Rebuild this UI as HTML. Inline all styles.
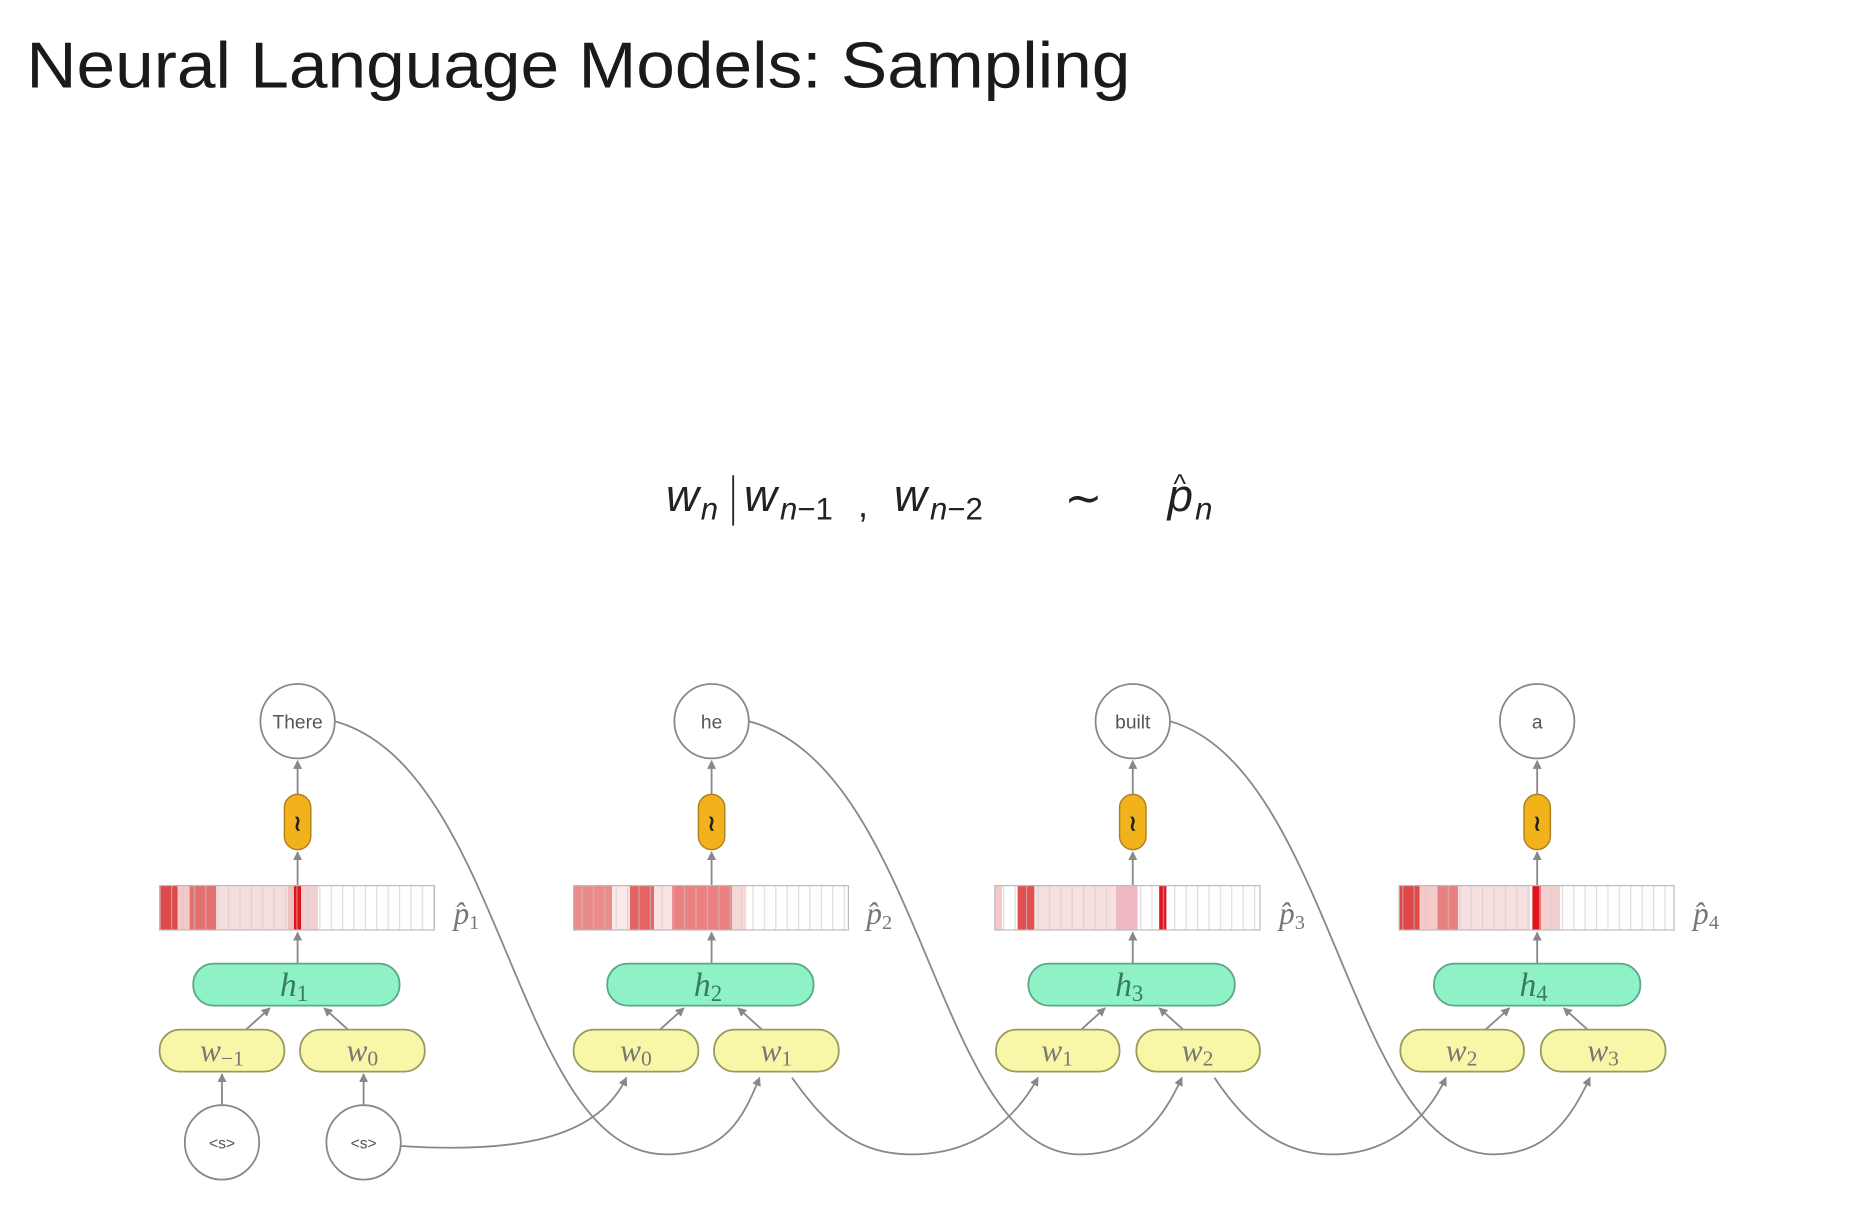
<!DOCTYPE html>
<html><head><meta charset="utf-8"><style>
html,body{margin:0;padding:0;background:#fff;}
svg{display:block;}
</style></head><body>
<svg width="1874" height="1224" viewBox="0 0 1561.7 1020" xmlns="http://www.w3.org/2000/svg" font-family="Liberation Sans, sans-serif">
<defs>
<marker id="ar" viewBox="0 0 10 10" refX="9" refY="5" markerWidth="5" markerHeight="5" orient="auto-start-reverse"><path d="M0,0 L10,5 L0,10 z" fill="#888"/></marker>
<pattern id="grid" width="9.5" height="40" patternUnits="userSpaceOnUse"><rect x="0" y="0" width="1" height="40" fill="#c8c8c8"/></pattern>
</defs>
<text x="22" y="73" font-size="54" fill="#1a1a1a" textLength="920" lengthAdjust="spacingAndGlyphs">Neural Language Models: Sampling</text>

<g font-family="Liberation Sans, sans-serif" font-style="italic" fill="#222">
<text x="555" y="426" font-size="38">w</text><text x="584" y="433" font-size="26">n</text>
<line x1="611" y1="396" x2="611" y2="438" stroke="#222" stroke-width="1.5"/>
<text x="620" y="426" font-size="38">w</text><text x="650" y="433" font-size="26">n<tspan font-style="normal">−1</tspan></text>
<text x="715" y="431" font-size="30" font-style="normal">,</text>
<text x="745" y="426" font-size="38">w</text><text x="775" y="433" font-size="26">n<tspan font-style="normal">−2</tspan></text>
<text x="887" y="428" font-size="38" font-style="normal">∼</text>
<text x="973" y="426" font-size="38">p</text><text x="996" y="433" font-size="26">n</text>
<text x="978" y="411" font-size="22" font-style="normal">^</text>
</g>

<g fill="none" stroke="#888" stroke-width="1.5">
<path d="M279,601 C420,640 430,962 555,962 C605,962 620,930 633,898" marker-end="url(#ar)"/>
<path d="M334,955 C440,962 500,945 522,898" marker-end="url(#ar)"/>
<path d="M624,601 C770,640 780,962 900,962 C950,962 970,930 985,898" marker-end="url(#ar)"/>
<path d="M660,898 C690,940 715,962 760,962 C810,962 845,935 865,898" marker-end="url(#ar)"/>
<path d="M975,601 C1110,640 1125,962 1245,962 C1290,962 1310,930 1325,898" marker-end="url(#ar)"/>
<path d="M1012,898 C1040,940 1070,962 1110,962 C1160,962 1190,930 1205,898" marker-end="url(#ar)"/>
</g>

<g stroke="#888" stroke-width="1.5" fill="none">
<path d="M248,803 L248,777" marker-end="url(#ar)"/><path d="M248,738 L248,710" marker-end="url(#ar)"/><path d="M248,662 L248,634" marker-end="url(#ar)"/>
<path d="M593,803 L593,777" marker-end="url(#ar)"/><path d="M593,738 L593,710" marker-end="url(#ar)"/><path d="M593,662 L593,634" marker-end="url(#ar)"/>
<path d="M944,803 L944,777" marker-end="url(#ar)"/><path d="M944,738 L944,710" marker-end="url(#ar)"/><path d="M944,662 L944,634" marker-end="url(#ar)"/>
<path d="M1281,803 L1281,777" marker-end="url(#ar)"/><path d="M1281,738 L1281,710" marker-end="url(#ar)"/><path d="M1281,662 L1281,634" marker-end="url(#ar)"/>
<path d="M205,858 L225,840" marker-end="url(#ar)"/><path d="M290,858 L270,840" marker-end="url(#ar)"/>
<path d="M550,858 L570,840" marker-end="url(#ar)"/><path d="M635,858 L615,840" marker-end="url(#ar)"/>
<path d="M901,858 L921,840" marker-end="url(#ar)"/><path d="M986,858 L966,840" marker-end="url(#ar)"/>
<path d="M1238,858 L1258,840" marker-end="url(#ar)"/><path d="M1323,858 L1303,840" marker-end="url(#ar)"/>
<path d="M185,921 L185,895" marker-end="url(#ar)"/><path d="M303,921 L303,895" marker-end="url(#ar)"/>
</g>

<g>
<rect x="133" y="738" width="229" height="37" fill="#fff"/>
<rect x="133" y="738" width="15" height="37" fill="#dc4a4a"/><rect x="148" y="738" width="10" height="37" fill="#f6c8c8"/><rect x="158" y="738" width="22" height="37" fill="#e57070"/><rect x="180" y="738" width="60" height="37" fill="#f7dede"/><rect x="240" y="738" width="5" height="37" fill="#f0c0c0"/><rect x="245" y="738" width="6" height="37" fill="#e0141e"/><rect x="251" y="738" width="14" height="37" fill="#f3d0d0"/>
<rect x="133" y="738" width="229" height="37" fill="url(#grid)" opacity="0.6"/>
<rect x="133" y="738" width="229" height="37" fill="none" stroke="#bbb"/>

<rect x="478" y="738" width="229" height="37" fill="#fff"/>
<rect x="478" y="738" width="32" height="37" fill="#eb8a8a"/><rect x="510" y="738" width="15" height="37" fill="#fbe8e8"/><rect x="525" y="738" width="20" height="37" fill="#e46464"/><rect x="545" y="738" width="15" height="37" fill="#fae3e3"/><rect x="560" y="738" width="50" height="37" fill="#ea8080"/><rect x="610" y="738" width="12" height="37" fill="#f7d8d8"/>
<rect x="478" y="738" width="229" height="37" fill="url(#grid)" opacity="0.6"/>
<rect x="478" y="738" width="229" height="37" fill="none" stroke="#bbb"/>

<rect x="829" y="738" width="221" height="37" fill="#fff"/>
<rect x="829" y="738" width="6" height="37" fill="#f3c8c8"/><rect x="848" y="738" width="14" height="37" fill="#e05050"/><rect x="862" y="738" width="68" height="37" fill="#f8e0e0"/><rect x="930" y="738" width="18" height="37" fill="#f0b8c0"/><rect x="966" y="738" width="6" height="37" fill="#e0141e"/>
<rect x="829" y="738" width="221" height="37" fill="url(#grid)" opacity="0.6"/>
<rect x="829" y="738" width="221" height="37" fill="none" stroke="#bbb"/>

<rect x="1166" y="738" width="229" height="37" fill="#fff"/>
<rect x="1166" y="738" width="17" height="37" fill="#e04848"/><rect x="1183" y="738" width="15" height="37" fill="#f5caca"/><rect x="1198" y="738" width="17" height="37" fill="#e88080"/><rect x="1215" y="738" width="60" height="37" fill="#f8e0e0"/><rect x="1277" y="738" width="7" height="37" fill="#e0141e"/><rect x="1284" y="738" width="16" height="37" fill="#f3d0d0"/>
<rect x="1166" y="738" width="229" height="37" fill="url(#grid)" opacity="0.6"/>
<rect x="1166" y="738" width="229" height="37" fill="none" stroke="#bbb"/>
</g>

<g font-family="Liberation Serif, serif" font-style="italic" fill="#777" font-size="26">
<text x="378" y="770">p̂<tspan font-style="normal" font-size="17" dy="4">1</tspan></text>
<text x="722" y="770">p̂<tspan font-style="normal" font-size="17" dy="4">2</tspan></text>
<text x="1066" y="770">p̂<tspan font-style="normal" font-size="17" dy="4">3</tspan></text>
<text x="1411" y="770">p̂<tspan font-style="normal" font-size="17" dy="4">4</tspan></text>
</g>

<g fill="#f2b21c" stroke="#b08020" stroke-width="1.2">
<rect x="237" y="662" width="22" height="46" rx="11"/>
<rect x="582" y="662" width="22" height="46" rx="11"/>
<rect x="933" y="662" width="22" height="46" rx="11"/>
<rect x="1270" y="662" width="22" height="46" rx="11"/>
</g>
<g font-size="18" fill="#222" text-anchor="middle" font-weight="bold">
<text x="248" y="692">≀</text><text x="593" y="692">≀</text><text x="944" y="692">≀</text><text x="1281" y="692">≀</text>
</g>

<g fill="#8ff2c6" stroke="#5aa888" stroke-width="1.5">
<rect x="161" y="803" width="172" height="35" rx="17"/>
<rect x="506" y="803" width="172" height="35" rx="17"/>
<rect x="857" y="803" width="172" height="35" rx="17"/>
<rect x="1195" y="803" width="172" height="35" rx="17"/>
</g>
<g font-family="Liberation Serif, serif" font-style="italic" font-size="28" fill="#3a7a60" text-anchor="middle">
<text x="245" y="830">h<tspan font-style="normal" font-size="19" dy="4">1</tspan></text>
<text x="590" y="830">h<tspan font-style="normal" font-size="19" dy="4">2</tspan></text>
<text x="941" y="830">h<tspan font-style="normal" font-size="19" dy="4">3</tspan></text>
<text x="1278" y="830">h<tspan font-style="normal" font-size="19" dy="4">4</tspan></text>
</g>

<g fill="#f8f7a8" stroke="#9a9a60" stroke-width="1.5">
<rect x="133" y="858" width="104" height="35" rx="17"/><rect x="250" y="858" width="104" height="35" rx="17"/>
<rect x="478" y="858" width="104" height="35" rx="17"/><rect x="595" y="858" width="104" height="35" rx="17"/>
<rect x="830" y="858" width="103" height="35" rx="17"/><rect x="947" y="858" width="103" height="35" rx="17"/>
<rect x="1167" y="858" width="103" height="35" rx="17"/><rect x="1284" y="858" width="104" height="35" rx="17"/>
</g>
<g font-family="Liberation Serif, serif" font-style="italic" font-size="26" fill="#777" text-anchor="middle">
<text x="185" y="884">w<tspan font-style="normal" font-size="18" dy="4">−1</tspan></text>
<text x="302" y="884">w<tspan font-style="normal" font-size="18" dy="4">0</tspan></text>
<text x="530" y="884">w<tspan font-style="normal" font-size="18" dy="4">0</tspan></text>
<text x="647" y="884">w<tspan font-style="normal" font-size="18" dy="4">1</tspan></text>
<text x="881" y="884">w<tspan font-style="normal" font-size="18" dy="4">1</tspan></text>
<text x="998" y="884">w<tspan font-style="normal" font-size="18" dy="4">2</tspan></text>
<text x="1218" y="884">w<tspan font-style="normal" font-size="18" dy="4">2</tspan></text>
<text x="1336" y="884">w<tspan font-style="normal" font-size="18" dy="4">3</tspan></text>
</g>

<g fill="#fff" stroke="#888" stroke-width="1.5">
<circle cx="248" cy="601" r="31"/><circle cx="593" cy="601" r="31"/><circle cx="944" cy="601" r="31"/><circle cx="1281" cy="601" r="31"/>
<circle cx="185" cy="952" r="31"/><circle cx="303" cy="952" r="31"/>
</g>
<g font-size="16" fill="#555" text-anchor="middle">
<text x="248" y="607">There</text><text x="593" y="607">he</text><text x="944" y="607">built</text><text x="1281" y="607">a</text>
<text x="185" y="957" font-size="13">&lt;s&gt;</text><text x="303" y="957" font-size="13">&lt;s&gt;</text>
</g>
</svg>
</body></html>
